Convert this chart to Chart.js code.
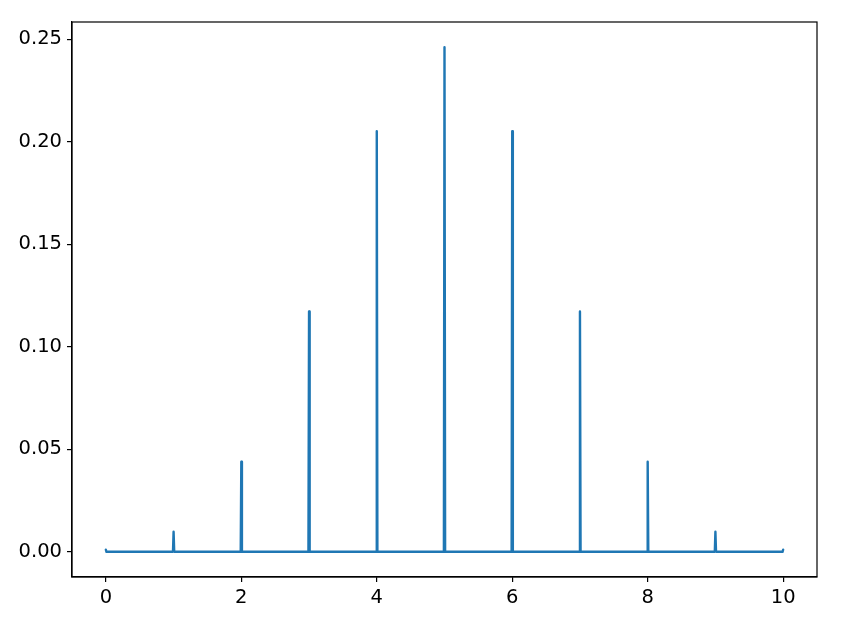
<!DOCTYPE html>
<html>
<head>
<meta charset="utf-8">
<script src="https://cdn.jsdelivr.net/npm/chart.js@4"></script>
<style>
  html, body { margin: 0; padding: 0; background: #fff; }
  #wrap { width: 841px; height: 618px; }
</style>
</head>
<body>
<div id="wrap"><canvas id="pmf" width="841" height="618"></canvas></div>
<script>
// binomial pmf, n = 10, p = 0.5
var ks = [0, 1, 2, 3, 4, 5, 6, 7, 8, 9, 10]
var probs = [0.00098, 0.00977, 0.04395, 0.11719, 0.20508, 0.24609, 0.20508, 0.11719, 0.04395, 0.00977, 0.00098]
var xTicks = [0, 2, 4, 6, 8, 10]
var yTicks = [0, 0.05, 0.10, 0.15, 0.20, 0.25]

// the curve is sampled on a fine grid, so it is zero except right at each k
var half = 0.009
var points = []
ks.forEach((k, i) => {
    if (i > 0) points.push({x: k - half, y: 0})
    points.push({x: k, y: probs[i]})
    if (i < ks.length - 1) points.push({x: k + half, y: 0})
})

const FONT = {family: 'DejaVu Sans', size: 19.5}

// matplotlib style box round the axes
const frame = {
    id: 'frame',
    afterDraw(chart) {
        let a = chart.chartArea
        let ctx = chart.ctx
        ctx.save()
        ctx.strokeStyle = '#000'
        ctx.lineWidth = 1.2
        ctx.strokeRect(a.left, a.top, a.right - a.left, a.bottom - a.top)
        ctx.restore()
    }
}

let canvas = document.getElementById('pmf')
let config = {
    type: 'scatter',
    data: {
        datasets: [{
            data: points,
            showLine: true,
            borderColor: '#1f77b4',
            borderWidth: 2.4,
            borderCapStyle: 'round',
            borderJoinStyle: 'round',
            pointRadius: 0,
            tension: 0
        }]
    },
    options: {
        responsive: false,
        animation: false,
        layout: {
            padding: {top: 22, right: 24, left: 0, bottom: 0}
        },
        plugins: {
            legend: {display: false},
            tooltip: {enabled: false}
        },
        scales: {
            x: {
                type: 'linear',
                min: -0.5,
                max: 10.5,
                afterBuildTicks: (axis) => {
                    axis.ticks = xTicks.map(v => ({value: v}))
                },
                afterFit: (axis) => { axis.height = 41 },
                ticks: {
                    color: '#000',
                    font: FONT,
                    padding: 4,
                    maxRotation: 0,
                    callback: (v) => String(v)
                },
                grid: {
                    drawOnChartArea: false,
                    drawTicks: true,
                    tickLength: 5,
                    color: '#000',
                    lineWidth: 1.2
                },
                border: {color: '#000', width: 1.2}
            },
            y: {
                type: 'linear',
                min: -0.0123,
                max: 0.2584,
                afterBuildTicks: (axis) => {
                    axis.ticks = yTicks.map(v => ({value: v}))
                },
                afterFit: (axis) => { axis.width = 72 },
                ticks: {
                    color: '#000',
                    font: FONT,
                    padding: 5,
                    callback: (v) => v.toFixed(2)
                },
                grid: {
                    drawOnChartArea: false,
                    drawTicks: true,
                    tickLength: 5,
                    color: '#000',
                    lineWidth: 1.2
                },
                border: {color: '#000', width: 1.2}
            }
        }
    },
    plugins: [frame]
};

var PmfChart = new Chart(canvas, config);
</script>
</body>
</html>
